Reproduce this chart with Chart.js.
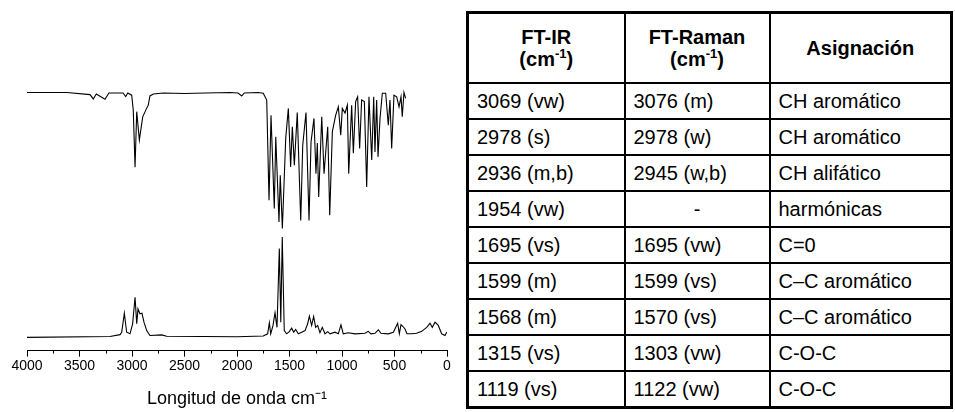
<!DOCTYPE html>
<html lang="es">
<head>
<meta charset="UTF-8">
<title>Espectros FT-IR y FT-Raman</title>
<script src="https://cdn.jsdelivr.net/npm/chart.js"></script>
<style>
  body { margin: 0; background: #fff; font-family: Arial, "Liberation Sans", sans-serif; }
  #chartBox { position: absolute; left: 0; top: 0; width: 460px; height: 412px; }
  table { position: absolute; left: 466px; top: 11px; border-collapse: collapse; table-layout: fixed;
          border: 3px solid #000; font-size: 20px; color: #000; }
  td, th { border: 2px solid #000; padding: 0 0 0 8px; height: 34px; text-align: left; white-space: nowrap; }
  th { font-weight: bold; text-align: center; height: 68px; line-height: 22px; padding: 0; }
  sup { font-size: 13px; vertical-align: 8px; line-height: 0; }
  td.c { text-align: center; padding: 0; }
</style>
</head>
<body>
<div id="chartBox"><canvas id="spectra" width="460" height="412"></canvas></div>
<table>
  <colgroup><col style="width:157px"><col style="width:145px"><col style="width:182px"></colgroup>
  <thead>
    <tr><th>FT-IR<br>(cm<sup>-1</sup>)</th><th>FT-Raman<br>(cm<sup>-1</sup>)</th><th>Asignación</th></tr>
  </thead>
  <tbody id="rows"></tbody>
</table>

<script>
// table contents
const irBands    = ['3069 (vw)', '2978 (s)', '2936 (m,b)', '1954 (vw)', '1695 (vs)', '1599 (m)', '1568 (m)', '1315 (vs)', '1119 (vs)'];
const ramanBands = ['3076 (m)', '2978 (w)', '2945 (w,b)', '-', '1695 (vw)', '1599 (vs)', '1570 (vs)', '1303 (vw)', '1122 (vw)'];
const assignments = ['CH aromático', 'CH aromático', 'CH alifático', 'harmónicas', 'C=0', 'C–C aromático', 'C–C aromático', 'C-O-C', 'C-O-C'];

// IR spectrum (transmittance, offset to the top of the plot)
const irWn = [4000, 3620, 3400, 3369, 3340, 3257, 3220, 3086, 3060, 3040, 3003, 2988, 2971, 2955, 2930, 2898, 2860, 2845, 2829, 2797,
  2700, 2500, 2300, 2067, 1990, 1955, 1930, 1800, 1750, 1733, 1717, 1695, 1676, 1645, 1631, 1600, 1588, 1568, 1536, 1511,
  1489, 1473, 1454, 1426, 1393, 1374, 1343, 1314, 1295, 1267, 1248, 1235, 1222, 1193, 1171, 1155, 1136, 1117, 1092, 1060,
  1035, 1012, 997, 971, 949, 936, 908, 892, 870, 851, 832, 813, 787, 765, 743, 717, 698, 686, 670, 657,
  638, 616, 584, 559, 543, 527, 505, 479, 457, 438, 426, 410, 394];
const irT = [95.4, 95.4, 94.6, 93.0, 94.8, 92.9, 95.2, 95.2, 93.9, 95.2, 94.4, 88.9, 67.8, 88.3, 77.8, 86.4, 89.6, 90.7, 94.1, 94.8,
  95.2, 95.0, 95.2, 95.4, 95.2, 94.1, 95.2, 95.4, 95.1, 93.8, 92.6, 55.6, 87.0, 52.5, 79.0, 47.5, 64.8, 45.1, 78.5, 89.5,
  67.9, 82.7, 68.5, 88.0, 48.1, 75.9, 88.0, 48.1, 77.1, 85.8, 65.4, 76.7, 56.8, 86.4, 65.4, 73.4, 82.7, 50.0, 80.9, 87.0,
  90.1, 79.6, 89.5, 87.8, 90.7, 65.4, 90.7, 72.9, 92.0, 93.8, 74.7, 92.6, 92.0, 60.5, 93.8, 70.4, 93.8, 73.4, 92.6, 71.6,
  85.8, 95.1, 95.1, 83.3, 92.6, 74.7, 94.4, 93.8, 90.1, 93.8, 86.4, 95.4, 93.2];

// Raman spectrum (intensity, bottom of the plot)
const ramanWn = [4000, 3210, 3114, 3098, 3073, 3051, 3019, 2994, 2971, 2955, 2943, 2924, 2905, 2886, 2860, 2829, 2717, 2670, 2000, 1750,
  1708, 1692, 1679, 1657, 1638, 1619, 1597, 1583, 1569, 1550, 1527, 1502, 1479, 1460, 1441, 1416, 1384, 1352, 1327, 1311,
  1289, 1270, 1251, 1232, 1210, 1188, 1162, 1136, 1114, 1067, 1035, 1010, 988, 940, 876, 781, 750, 724, 686, 654,
  629, 559, 511, 470, 454, 438, 419, 400, 381, 336, 290, 241, 193, 162, 140, 114, 83, 51, 19, 3];
const ramanI = [4.9, 5.2, 5.9, 6.8, 13.8, 6.8, 6.2, 9.9, 19.7, 9.9, 15.4, 13.6, 13.8, 10.5, 7.4, 5.6, 5.8, 5.3, 5.1, 5.4,
  6.2, 10.3, 6.2, 9.3, 14.0, 8.6, 37.7, 10.5, 42.0, 7.4, 6.2, 7.0, 8.3, 6.8, 7.8, 6.2, 6.8, 7.4, 9.9, 12.7,
  9.3, 12.6, 8.6, 9.3, 6.6, 8.6, 6.2, 7.0, 6.2, 6.8, 6.2, 9.5, 6.2, 6.6, 6.2, 6.4, 7.1, 6.2, 6.4, 7.7,
  6.4, 6.2, 6.8, 10.1, 6.2, 9.6, 8.9, 8.0, 6.2, 6.2, 6.4, 7.1, 8.6, 10.1, 8.6, 10.5, 9.3, 6.2, 5.6, 6.8];

const xTicks = [4000, 3500, 3000, 2500, 2000, 1500, 1000, 500, 0];
const minorTicks = [3750, 3250, 2750, 2250, 1750, 1250, 750, 250];

const tbody = document.getElementById('rows');
irBands.forEach((ir, i) => {
  const tr = document.createElement('tr');
  tr.innerHTML = '<td>' + ir + '</td><td' + (ramanBands[i] === '-' ? ' class="c"' : '') + '>' + ramanBands[i] + '</td><td>' + assignments[i] + '</td>';
  tbody.appendChild(tr);
});

const minorTickPlugin = {
  id: 'minorTicks',
  afterDraw(chart) {
    const x = chart.scales.x, ctx = chart.ctx, y0 = chart.chartArea.bottom;
    ctx.save();
    ctx.strokeStyle = '#000';
    ctx.lineWidth = 1;
    minorTicks.forEach(v => {
      const px = Math.round(x.getPixelForValue(v)) + 0.5;
      ctx.beginPath();
      ctx.moveTo(px, y0);
      ctx.lineTo(px, y0 + 3);
      ctx.stroke();
    });
    ctx.restore();
  }
};

new Chart(document.getElementById('spectra'), {
  type: 'line',
  data: {
    datasets: [
      { label: 'FT-IR', data: irWn.map((w, i) => ({ x: w, y: irT[i] })), borderColor: '#000', borderWidth: 1.1, pointRadius: 0, tension: 0 },
      { label: 'FT-Raman', data: ramanWn.map((w, i) => ({ x: w, y: ramanI[i] })), borderColor: '#000', borderWidth: 1.1, pointRadius: 0, tension: 0 }
    ]
  },
  options: {
    responsive: false,
    animation: false,
    devicePixelRatio: 1,
    layout: { padding: { left: 27, right: 13, top: 80, bottom: 2 } },
    plugins: { legend: { display: false }, tooltip: { enabled: false } },
    scales: {
      x: {
        type: 'linear', reverse: true, min: 0, max: 4000,
        afterBuildTicks: s => { s.ticks = xTicks.map(v => ({ value: v })); },
        ticks: { color: '#000', padding: 1, maxRotation: 0, autoSkip: false, callback: v => String(v),
                 font: { family: 'Arial, "Liberation Sans", sans-serif', size: 14 } },
        grid: { drawOnChartArea: false, tickLength: 6, tickColor: '#000' },
        border: { display: true, color: '#000', width: 1 },
        title: { display: true, text: 'Longitud de onda cm⁻¹', color: '#000', padding: { top: 13, bottom: 0 },
                 font: { family: 'Arial, "Liberation Sans", sans-serif', size: 18 } }
      },
      y: { display: false, min: 0, max: 100 }
    }
  },
  plugins: [minorTickPlugin]
});
</script>
</body>
</html>
